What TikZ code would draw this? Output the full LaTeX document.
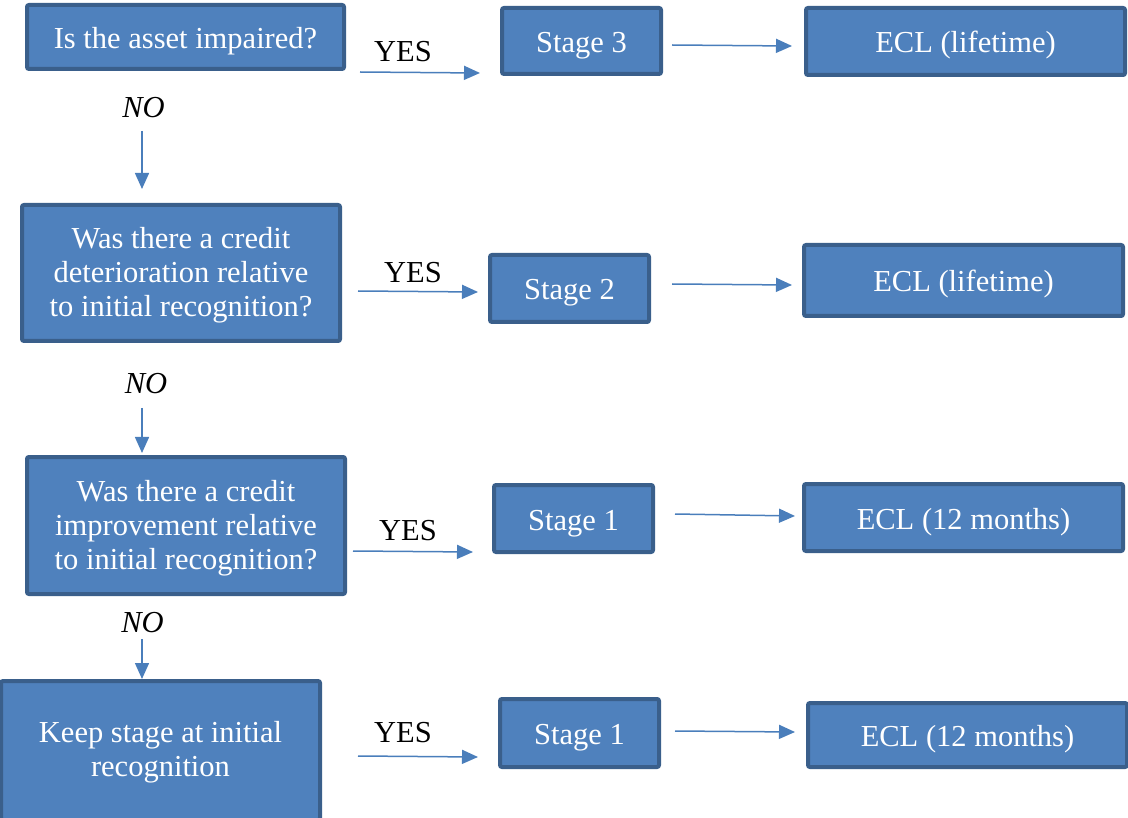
\documentclass[tikz,border=0pt]{standalone}
\usepackage{fontspec}
\setmainfont{Liberation Serif}
\usetikzlibrary{arrows.meta}
\definecolor{boxfill}{HTML}{4F81BD}
\definecolor{boxline}{HTML}{3A5F8B}
\definecolor{arrcol}{HTML}{4A7EBB}
\newcommand{\topstrut}[1]{\rule{0pt}{#1}}
\begin{document}
\begin{tikzpicture}[x=1pt,y=-1pt,
  box/.style={draw=boxline, fill=boxfill, line width=4pt, rounded corners=2pt,
    text=white, align=center, inner sep=0pt,
    font=\fontsize{30.5}{34}\selectfont},
  onebox/.style={box, text height=23pt, text depth=0pt},
  arr/.style={draw=arrcol, line width=1.5pt, -{Triangle[length=16pt,width=14pt]}},
  lab/.style={inner sep=0pt, font=\fontsize{30.5}{34}\selectfont},
  nolab/.style={lab, font=\fontsize{30.5}{34}\selectfont\itshape}]
\useasboundingbox (0,0) rectangle (1128,818);

% boxes
\node[onebox, minimum width=317pt, minimum height=64pt] (q1) at (185.5,37) {Is the asset impaired?};
\node[onebox, minimum width=159pt, minimum height=66pt] (s3) at (581.5,41) {Stage 3};
\node[onebox, minimum width=319pt, minimum height=67pt] (e1) at (965.5,41.5) {ECL (lifetime)};

\node[box, minimum width=318pt, minimum height=136pt] (q2) at (181,273) {\topstrut{26pt}Was there a credit\\deterioration relative\\to initial recognition?};
\node[onebox, minimum width=159pt, minimum height=67pt] (s2) at (569.5,288.5) {Stage 2};
\node[onebox, minimum width=319pt, minimum height=71pt] (e2) at (963.5,280.5) {ECL (lifetime)};

\node[box, minimum width=318pt, minimum height=137pt] (q3) at (186,525.5) {\topstrut{26pt}Was there a credit\\improvement relative\\to initial recognition?};
\node[onebox, minimum width=159pt, minimum height=67pt] (s1a) at (573.5,518.5) {Stage 1};
\node[onebox, minimum width=319pt, minimum height=67pt] (e3) at (963.5,517.5) {ECL (12 months)};

\node[box, minimum width=319pt, minimum height=139pt] (q4) at (160.5,750.5) {\topstrut{24pt}Keep stage at initial\\recognition};
\node[onebox, minimum width=159pt, minimum height=68pt] (s1b) at (579.5,733) {Stage 1};
\node[onebox, minimum width=319pt, minimum height=64pt] (e4) at (967.5,735) {ECL (12 months)};

% labels
\node[lab] (y1) at (403,52) {YES};
\node[lab] (y2) at (413,272.5) {YES};
\node[lab] (y3) at (408,531) {YES};
\node[lab] (y4) at (403,733) {YES};
\node[nolab] (n1) at (143.5,108) {NO};
\node[nolab] (n2) at (146,384) {NO};
\node[nolab] (n3) at (142.5,623) {NO};

% arrow end points
\coordinate (a1s) at (360,72);   \coordinate (a1e) at (480,73);
\coordinate (b1s) at (672,45);   \coordinate (b1e) at (792,46);
\coordinate (a2s) at (358,291);  \coordinate (a2e) at (478,292);
\coordinate (b2s) at (672,284);  \coordinate (b2e) at (792,285);
\coordinate (a3s) at (353,551);  \coordinate (a3e) at (473,552);
\coordinate (b3s) at (675,514);  \coordinate (b3e) at (795,516);
\coordinate (a4s) at (358,756);  \coordinate (a4e) at (478,757);
\coordinate (b4s) at (675,731);  \coordinate (b4e) at (795,732);
\coordinate (c1s) at (142,131);  \coordinate (c1e) at (142,189);
\coordinate (c2s) at (142,408);  \coordinate (c2e) at (142,453);
\coordinate (c3s) at (142,639);  \coordinate (c3e) at (142,679);

% arrows
\draw[arr] (a1s) -- (a1e);
\draw[arr] (b1s) -- (b1e);
\draw[arr] (a2s) -- (a2e);
\draw[arr] (b2s) -- (b2e);
\draw[arr] (a3s) -- (a3e);
\draw[arr] (b3s) -- (b3e);
\draw[arr] (a4s) -- (a4e);
\draw[arr] (b4s) -- (b4e);
\draw[arr] (c1s) -- (c1e);
\draw[arr] (c2s) -- (c2e);
\draw[arr] (c3s) -- (c3e);
\end{tikzpicture}
\end{document}
